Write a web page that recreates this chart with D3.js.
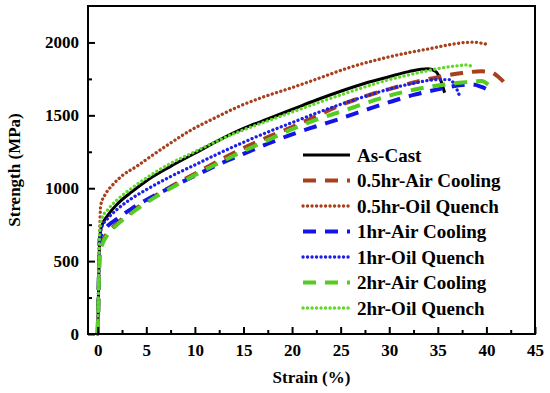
<!DOCTYPE html>
<html>
<head>
<meta charset="utf-8">
<script src="https://cdn.jsdelivr.net/npm/d3@7"></script>
<style>
  body { margin: 0; background: #fff; }
  svg { display: block; }
  text { font-family: "Liberation Serif", "Times New Roman", serif; font-weight: bold; fill: #000; }
</style>
</head>
<body>
<script>
// strain (%) / strength (MPa) pairs
var asCast = [[0,0],[0.1,350],[0.2,650],[0.4,740],[1,810],[2,890],[3.5,975],[5,1050],[7.5,1150],[10,1240],[12.5,1330],[15,1410],[17.5,1475],[20,1540],[22.5,1605],[25,1665],[27.5,1720],[30,1765],[32,1800],[34,1820],[34.8,1800],[35.3,1740],[35.7,1655]];
var air05 = [[0,0],[0.1,300],[0.2,550],[0.5,640],[1,690],[2,760],[3.5,840],[5,910],[7.5,1010],[10,1100],[12.5,1190],[15,1275],[17.5,1350],[20,1420],[22.5,1495],[25,1570],[27.5,1630],[30,1680],[32.5,1725],[35,1762],[37.5,1790],[39.5,1802],[40.5,1795],[41.3,1760],[42,1715]];
var oil05 = [[0,0],[0.1,400],[0.2,700],[0.3,880],[0.8,960],[1.5,1020],[2.5,1085],[4,1150],[5.5,1220],[7.5,1310],[9.5,1395],[12,1480],[14.5,1560],[17,1625],[20,1690],[23,1760],[26,1830],[29,1885],[32,1930],[34,1955],[36,1982],[38.5,2002],[40,1988]];
var air1 = [[0,0],[0.1,350],[0.2,650],[0.5,700],[1,740],[2,790],[3.5,860],[5,920],[7.5,1005],[10,1085],[12.5,1165],[15,1235],[17.5,1305],[20,1370],[22.5,1425],[25,1478],[27.5,1535],[30,1590],[32.5,1640],[35,1678],[37.5,1708],[38.5,1712],[39.5,1695],[40.6,1660]];
var oil1 = [[0,0],[0.1,350],[0.2,650],[0.4,730],[1,790],[2,855],[3.5,930],[5,990],[7.5,1080],[10,1160],[12.5,1240],[15,1315],[17.5,1385],[20,1450],[22.5,1515],[25,1575],[27.5,1630],[30,1680],[32.5,1720],[35,1745],[36.2,1745],[36.8,1700],[37.2,1640]];
var air2 = [[0,0],[0.1,300],[0.2,550],[0.5,620],[1,680],[2,750],[3.5,830],[5,900],[7.5,1000],[10,1090],[12.5,1175],[15,1255],[17.5,1330],[20,1405],[22.5,1470],[25,1525],[27.5,1582],[30,1635],[32.5,1675],[35,1705],[37.5,1725],[39.5,1735],[40.2,1710]];
var oil2 = [[0,0],[0.1,400],[0.2,700],[0.4,790],[1,850],[2,920],[3.5,1000],[5,1070],[7.5,1170],[10,1250],[12.5,1330],[15,1400],[17.5,1462],[20,1522],[22.5,1582],[25,1640],[27.5,1695],[30,1745],[32.5,1785],[35,1820],[37,1840],[38,1846],[38.6,1830]];

var seriesNames = ['As-Cast', '0.5hr-Air Cooling', '0.5hr-Oil Quench', '1hr-Air Cooling', '1hr-Oil Quench', '2hr-Air Cooling', '2hr-Oil Quench'];
var seriesData = [asCast, air05, oil05, air1, oil1, air2, oil2];
var xTicks = [0, 5, 10, 15, 20, 25, 30, 35, 40, 45];
var yTicks = [0, 500, 1000, 1500, 2000];

// look of each series: colour, kind of stroke
var styles = [
  { color: '#000000', kind: 'solid' },
  { color: '#A8401C', kind: 'dash' },
  { color: '#A8401C', kind: 'dot' },
  { color: '#1414E6', kind: 'dash' },
  { color: '#1E1EE8', kind: 'dot' },
  { color: '#55CC22', kind: 'dash' },
  { color: '#5FD826', kind: 'dot' }
];

var width = 550, height = 393;
var plotLeft = 88, plotRight = 535, plotTop = 6, plotBottom = 334;

var svg = d3.select('body').append('svg')
  .attr('width', width)
  .attr('height', height);

var x = d3.scaleLinear().domain([-1, 45]).range([plotLeft, plotRight]);
var y = d3.scaleLinear().domain([0, 2250]).range([plotBottom, plotTop]);

function applyStyle(sel, st) {
  sel.attr('fill', 'none').attr('stroke', st.color);
  if (st.kind === 'solid') {
    sel.attr('stroke-width', 3);
  } else if (st.kind === 'dash') {
    sel.attr('stroke-width', 4).attr('stroke-dasharray', '13,9');
  } else {
    sel.attr('stroke-width', 3.3).attr('stroke-linecap', 'round').attr('stroke-dasharray', '0.1,4.4');
  }
  return sel;
}

var line = d3.line()
  .x(function(d) { return x(d[0]); })
  .y(function(d) { return y(d[1]); })
  .curve(d3.curveMonotoneX);

var plot = svg.append('g');
seriesData.forEach(function(d, i) {
  applyStyle(plot.append('path').datum(d).attr('d', line), styles[i]);
});

// axes: ticks point into the frame
svg.append('g')
  .attr('transform', 'translate(0,' + plotBottom + ')')
  .call(d3.axisBottom(x).tickValues(xTicks).tickSize(-7).tickPadding(10).tickFormat(d3.format('d')));
svg.append('g')
  .attr('transform', 'translate(0,' + plotBottom + ')')
  .call(d3.axisBottom(x).tickValues(d3.range(2.5, 45, 5)).tickSize(-4).tickFormat(''));

svg.append('g')
  .attr('transform', 'translate(' + plotLeft + ',0)')
  .call(d3.axisLeft(y).tickValues(yTicks).tickSize(-7).tickPadding(9).tickFormat(d3.format('d')));
svg.append('g')
  .attr('transform', 'translate(' + plotLeft + ',0)')
  .call(d3.axisLeft(y).tickValues([250, 750, 1250, 1750]).tickSize(-4).tickFormat(''));

svg.selectAll('.domain').remove();
svg.selectAll('.tick line').attr('stroke', '#000').attr('stroke-width', 2);
svg.selectAll('.tick text')
  .style('font-family', '"Liberation Serif", "Times New Roman", serif')
  .style('font-weight', 'bold')
  .style('font-size', '17px')
  .attr('fill', '#000');

svg.append('rect')
  .attr('x', plotLeft).attr('y', plotTop)
  .attr('width', plotRight - plotLeft).attr('height', plotBottom - plotTop)
  .attr('fill', 'none').attr('stroke', '#000').attr('stroke-width', 2);

svg.append('text')
  .attr('x', (plotLeft + plotRight) / 2).attr('y', 383)
  .attr('text-anchor', 'middle')
  .style('font-size', '17px')
  .text('Strain (%)');

svg.append('text')
  .attr('transform', 'translate(20,' + ((plotTop + plotBottom) / 2) + ') rotate(-90)')
  .attr('text-anchor', 'middle')
  .style('font-size', '17px')
  .text('Strength (MPa)');

// legend
var legend = svg.append('g');
seriesNames.forEach(function(name, i) {
  var ly = 155 + i * 25.5;
  applyStyle(legend.append('line')
    .attr('x1', 303).attr('x2', 350)
    .attr('y1', ly).attr('y2', ly), styles[i]);
  legend.append('text')
    .attr('x', 357).attr('y', ly)
    .attr('dy', '0.35em')
    .style('font-size', '19px')
    .text(name);
});
</script>
</body>
</html>
